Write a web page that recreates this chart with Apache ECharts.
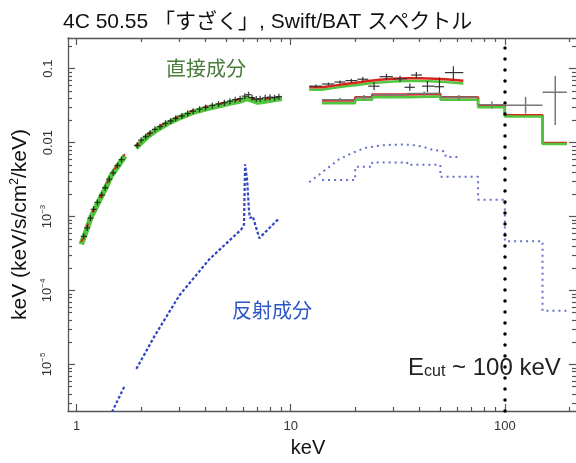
<!DOCTYPE html>
<html>
<head>
<meta charset="utf-8">
<title>4C 50.55 spectrum</title>
<script src="https://cdn.jsdelivr.net/npm/echarts@6/dist/echarts.min.js"></script>
<style>
  html, body { margin: 0; padding: 0; background: #fff; }
  #main { width: 576px; height: 463px; }
</style>
</head>
<body>
<div id="main"></div>
<script>
// axis ranges and ticks
var xMin = 0.911, xMax = 215;
var yMin = 2.34e-6, yMax = 0.26;
var xMajor = [1, 10, 100];
var xMinor = [2, 3, 4, 5, 6, 7, 8, 9, 20, 30, 40, 50, 60, 70, 80, 90, 200];
var yMajor = [1e-5, 1e-4, 1e-3, 0.01, 0.1];
var yLabels = ['{m|10}{s|−5}', '{m|10}{s|−4}', '{m|10}{s|−3}', '0.01', '0.1'];
var yMinor = [];
[1e-6, 1e-5, 1e-4, 1e-3, 1e-2, 1e-1].forEach(function (d) {
  for (var k = 2; k <= 9; k++) { if (k * d > yMin && k * d < yMax) yMinor.push(k * d); }
});

// XIS (direct component), low part and high part
var xisLoE     = [1.05, 1.10, 1.17, 1.24, 1.30, 1.38, 1.45, 1.55, 1.68];
var xisLoGreen = [4.2e-4, 6.0e-4, 1.0e-3, 1.4e-3, 1.84e-3, 2.6e-3, 3.57e-3, 4.7e-3, 6.6e-3];
var xisLoRed   = [4.5e-4, 6.4e-4, 1.06e-3, 1.49e-3, 1.95e-3, 2.75e-3, 3.78e-3, 4.98e-3, 7.0e-3];
var xisHiE     = [1.89, 2.0, 2.14, 2.35, 2.66, 3.0, 3.54, 4.0, 4.7, 5.3, 5.8, 6.26, 6.6, 7.0, 7.5, 8.0, 8.6, 9.1];
var xisHiGreen = [8.5e-3, 0.0100, 0.0121, 0.0147, 0.0182, 0.0215, 0.0261, 0.0287, 0.0319, 0.0348, 0.0366, 0.0395, 0.0375, 0.0353, 0.0362, 0.0375, 0.0388, 0.0395];
var xisHiRed   = [9.0e-3, 0.0106, 0.0128, 0.0156, 0.0193, 0.0228, 0.0277, 0.0304, 0.0338, 0.0369, 0.0388, 0.0425, 0.0398, 0.0374, 0.0384, 0.0398, 0.0411, 0.0419];
var xisDataE = [1.08, 1.12, 1.16, 1.20, 1.25, 1.31, 1.36, 1.42, 1.48, 1.55, 1.62,
                1.92, 2.0, 2.1, 2.2, 2.32, 2.45, 2.6, 2.75, 2.9, 3.1, 3.3, 3.5, 3.75, 4.0, 4.3,
                4.6, 4.9, 5.2, 5.5, 5.8, 6.1, 6.35, 6.6, 6.9, 7.2, 7.6, 8.0, 8.4, 8.8];
var xisDataF = [5.4e-4, 7.0e-4, 9.5e-4, 1.25e-3, 1.55e-3, 1.95e-3, 2.45e-3, 3.2e-3, 3.9e-3, 4.9e-3, 5.9e-3,
                9.2e-3, 0.0108, 0.0121, 0.0134, 0.0151, 0.0164, 0.0182, 0.0196, 0.0212, 0.0229, 0.0247, 0.0266, 0.0283, 0.0299, 0.0318,
                0.0333, 0.0347, 0.0363, 0.0381, 0.0393, 0.0425, 0.0445, 0.0405, 0.0388, 0.0392, 0.0405, 0.0412, 0.0405, 0.0418];

// HXD/PIN (binned)
var pinEdges = [12.2, 14, 16, 18, 20.5, 23, 26, 30, 35, 41, 47, 53, 64];
var pinRed   = [0.056, 0.059, 0.062, 0.065, 0.068, 0.071, 0.073, 0.074, 0.074, 0.073, 0.072, 0.0684];
var pinGreen = [0.052, 0.055, 0.058, 0.060, 0.063, 0.065, 0.067, 0.068, 0.068, 0.067, 0.066, 0.063];
// [E, Elo, Ehi, F, Flo, Fhi]
var pinCross = [
  [13.1, 12.2, 14, 0.058, 0.055, 0.061],
  [15, 14, 16, 0.062, 0.059, 0.065],
  [17, 16, 18, 0.066, 0.062, 0.069],
  [19.2, 18, 20.5, 0.069, 0.065, 0.073],
  [21.7, 20.5, 23, 0.072, 0.067, 0.077],
  [24.5, 23, 26, 0.058, 0.051, 0.066],
  [28, 26, 30, 0.078, 0.071, 0.085],
  [32.4, 30, 35, 0.073, 0.066, 0.080],
  [36, 34, 38, 0.056, 0.050, 0.063],
  [38.6, 36.5, 41, 0.082, 0.074, 0.090],
  [43.5, 41, 47, 0.058, 0.048, 0.068],
  [49.5, 47, 52, 0.057, 0.046, 0.076],
  [57.5, 52.5, 64, 0.0885, 0.0685, 0.108]
];

// Swift/BAT (8 bands)
var batEdges = [14, 20, 24, 35, 50, 75, 100, 150, 195];
var batRed   = [0.0371, 0.0412, 0.0446, 0.0455, 0.0412, 0.0319, 0.0235, 0.0099];
var batGreen = [0.034, 0.038, 0.041, 0.042, 0.038, 0.030, 0.0225, 0.0096];
var batCross = [
  [17, 14, 20, 0.038, 0.0355, 0.0405],
  [22, 20, 24, 0.041, 0.038, 0.044],
  [29, 24, 35, 0.0445, 0.042, 0.047],
  [42, 35, 50, 0.046, 0.043, 0.049],
  [61, 50, 75, 0.041, 0.038, 0.044],
  [87, 75, 100, 0.0325, 0.029, 0.036],
  [125, 100, 150, 0.032, 0.0247, 0.0415],
  [172, 150, 195, 0.048, 0.0173, 0.0797]
];

// reflection component
var reflLoE = [1.40, 1.48, 1.58, 1.68];
var reflLoF = [1.7e-6, 2.44e-6, 3.6e-6, 5.2e-6];
var reflHiE = [1.90, 2.31, 3.02, 4.17, 5.86, 6.05, 6.12, 6.26, 6.38, 6.45, 6.65, 7.13, 8.83];
var reflHiF = [8.7e-6, 2.41e-5, 8.6e-5, 2.65e-4, 6.64e-4, 7.8e-4, 5.09e-3, 3.06e-3, 1.2e-3, 9.5e-4, 1.0e-3, 5.1e-4, 9.47e-4];
var reflPinE = [12.2, 14, 16.8, 19.5, 22.3, 26, 29.6, 34, 38.1, 42, 45.5, 46, 52.5, 53, 62];
var reflPinF = [2.91e-3, 3.95e-3, 5.93e-3, 7.3e-3, 8.48e-3, 9.1e-3, 9.38e-3, 9.4e-3, 9.2e-3, 8.7e-3, 8.05e-3, 7.7e-3, 7.6e-3, 6.4e-3, 6.4e-3];
var reflBat = [3.12e-3, 4.7e-3, 5.36e-3, 5.0e-3, 3.46e-3, 1.69e-3, 4.64e-4, 5.3e-5];

var eCut = 100;

function pairs(xs, ys) {
  return xs.map(function (x, i) { return [x, ys[i]]; });
}
function steps(edges, vals) {
  var out = [];
  vals.forEach(function (v, i) { out.push([edges[i], v], [edges[i + 1], v]); });
  return out;
}
function lineSeries(data, color, width, type, z) {
  return {
    type: 'line', data: data, showSymbol: false, symbol: 'none', z: z || 2,
    lineStyle: { color: color, width: width, type: type || 'solid' },
    silent: true
  };
}
function crossSeries(rows, color, width) {
  return {
    type: 'custom', data: rows, z: 6, silent: true,
    encode: { x: [0, 1, 2], y: [3, 4, 5] },
    renderItem: function (params, api) {
      var l = api.coord([api.value(1), api.value(3)]);
      var r = api.coord([api.value(2), api.value(3)]);
      var b = api.coord([api.value(0), api.value(4)]);
      var t = api.coord([api.value(0), api.value(5)]);
      return { type: 'group', children: [
        { type: 'line', shape: { x1: l[0], y1: l[1], x2: r[0], y2: r[1] }, style: { stroke: color, lineWidth: width } },
        { type: 'line', shape: { x1: b[0], y1: b[1], x2: t[0], y2: t[1] }, style: { stroke: color, lineWidth: width } }
      ] };
    }
  };
}

var green = '#52c63f', red = '#d8261c', blueDark = '#2f45c2', blueLight = '#6770cc';
var font = 'Liberation Sans';
var axisColor = '#555';

function xAx(pos, ticks, len, showLine, showLabel) {
  return {
    type: 'log', logBase: 10, min: xMin, max: xMax, position: pos,
    axisLine: { show: showLine, lineStyle: { color: axisColor, width: 1.3 } },
    axisTick: { show: true, inside: true, length: len, customValues: ticks, lineStyle: { color: axisColor, width: 1.2 } },
    axisLabel: { show: showLabel, customValues: xMajor, margin: 9, color: '#333', fontSize: 13, fontFamily: font },
    splitLine: { show: false }
  };
}
function yAx(pos, ticks, len, showLine, showLabel) {
  return {
    type: 'log', logBase: 10, min: yMin, max: yMax, position: pos,
    axisLine: { show: showLine, lineStyle: { color: axisColor, width: 1.3 } },
    axisTick: { show: true, inside: true, length: len, customValues: ticks, lineStyle: { color: axisColor, width: 1.2 } },
    axisLabel: {
      show: showLabel, customValues: yMajor, rotate: 90, margin: 13, color: '#333', fontSize: 13, fontFamily: font,
      formatter: function (v) {
        for (var i = 0; i < yMajor.length; i++) {
          if (Math.abs(Math.log10(v) - Math.log10(yMajor[i])) < 0.01) return yLabels[i];
        }
        return '';
      },
      rich: {
        m: { fontSize: 13, color: '#333', fontFamily: font, lineHeight: 16 },
        s: { fontSize: 8, color: '#333', fontFamily: font, verticalAlign: 'top', lineHeight: 16 }
      }
    },
    splitLine: { show: false }
  };
}

var xAxes = [xAx('bottom', xMajor, 7, true, true), xAx('bottom', xMinor, 4, false, false),
             xAx('top', xMajor, 7, true, false), xAx('top', xMinor, 4, false, false)];
xAxes[0].name = 'keV';
xAxes[0].nameLocation = 'middle';
xAxes[0].nameGap = 27;
xAxes[0].nameTextStyle = { fontSize: 20, color: '#111', fontFamily: font, padding: [0, 28, 0, 0] };

var yAxes = [yAx('left', yMajor, 7, true, true), yAx('left', yMinor, 4, false, false),
             yAx('right', yMajor, 7, false, false), yAx('right', yMinor, 4, false, false)];
yAxes[0].name = 'keV (keV/s/cm{sup|2}/keV)';
yAxes[0].nameLocation = 'middle';
yAxes[0].nameGap = 34;
yAxes[0].nameRotate = 90;
yAxes[0].nameTextStyle = { fontSize: 21, color: '#111', fontFamily: font,
  rich: { sup: { fontSize: 12, color: '#111', fontFamily: font, verticalAlign: 'top', lineHeight: 24 } } };

var series = [
  // reflection component
  lineSeries(pairs(reflLoE, reflLoF), blueDark, 2.2, [3, 2], 2),
  lineSeries(pairs(reflHiE, reflHiF), blueDark, 2.2, [3, 2], 2),
  lineSeries(pairs(reflPinE, reflPinF), blueLight, 2, [2, 4], 2),
  lineSeries(steps(batEdges, reflBat), blueLight, 2, [2, 4], 2),
  // direct component: XIS
  lineSeries(pairs(xisLoE, xisLoGreen), green, 5.5, 'solid', 3),
  lineSeries(pairs(xisHiE, xisHiGreen), green, 5.5, 'solid', 3),
  lineSeries(pairs(xisLoE, xisLoRed), red, 2, [4, 12], 4),
  lineSeries(pairs(xisHiE, xisHiRed), red, 2, [4, 12], 4),
  {
    type: 'scatter', data: pairs(xisDataE, xisDataF), z: 5, silent: true,
    symbol: 'path://M0,5H10M5,0V10', symbolSize: 6,
    itemStyle: { color: 'transparent', borderColor: '#111', borderWidth: 1.3 }
  },
  // PIN and BAT
  lineSeries(steps(pinEdges, pinGreen), green, 2.5, 'solid', 3),
  lineSeries(steps(pinEdges, pinRed), red, 2.5, 'solid', 4),
  lineSeries(steps(batEdges, batRed), red, 2.5, 'solid', 3),
  lineSeries(steps(batEdges, batGreen), green, 2.5, 'solid', 4),
  crossSeries(pinCross, '#333', 1.2),
  crossSeries(batCross, '#777', 1.5)
];
series[0].markLine = {
  silent: true, symbol: 'none', label: { show: false }, animation: false,
  lineStyle: { color: '#000', width: 3.5, type: [0.1, 10.9], cap: 'round' },
  data: [{ xAxis: eCut }]
};

var myChart = echarts.init(document.getElementById('main'));
var option = {
  animation: false,
  backgroundColor: '#fff',
  title: {
    text: '4C 50.55 「すざく」, Swift/BAT スペクトル',
    left: 58, top: 7,
    textStyle: { fontSize: 21, fontWeight: 'normal', color: '#111', fontFamily: "'Liberation Sans', 'Noto Sans CJK JP'" }
  },
  grid: { left: 68, right: -2, top: 38, bottom: 45 },
  xAxis: xAxes,
  yAxis: yAxes,
  series: series,
  graphic: [
    { type: 'text', left: 166, top: 58, z: 20,
      style: { text: '直接成分', fontSize: 20, fill: '#4a7a3c', fontFamily: 'Noto Sans CJK JP' } },
    { type: 'text', left: 232, top: 300, z: 20,
      style: { text: '反射成分', fontSize: 20, fill: '#2d56c4', fontFamily: 'Noto Sans CJK JP' } },
    { type: 'text', left: 408, top: 356, z: 20,
      style: { text: '{e|E}{c|cut}{e| ~ 100 keV}', rich: {
        e: { fontSize: 24, fill: '#222', fontFamily: font, verticalAlign: 'bottom', lineHeight: 30 },
        c: { fontSize: 16, fill: '#222', fontFamily: font, verticalAlign: 'bottom', lineHeight: 26 }
      } } }
  ]
};
myChart.setOption(option);
</script>
</body>
</html>
